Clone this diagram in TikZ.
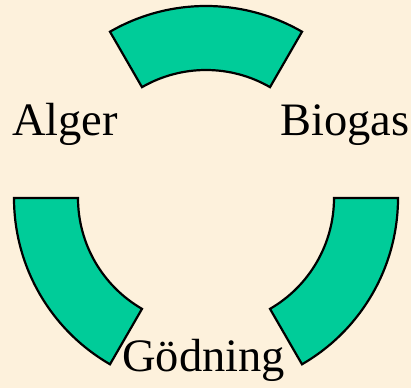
\documentclass[tikz,border=0pt]{standalone}
\usepackage{fontspec}
\setmainfont{Liberation Serif}
\definecolor{bgcream}{HTML}{FDF1DC}
\definecolor{ringgreen}{HTML}{00CC99}
\tikzset{
  sector/.style={fill=ringgreen, draw=black, line width=2.2pt, line join=miter},
  lbl/.style={anchor=base west, inner sep=0pt, font=\fontsize{46.5}{50}\selectfont}
}
\begin{document}
\begin{tikzpicture}[x=1pt,y=1pt]
\fill[bgcream] (0,0) rectangle (411,388);
\useasboundingbox (0,0) rectangle (411,388);
\coordinate (c) at (206,190);
\foreach \a in {60,180,300}{
  \pgfmathsetmacro{\b}{\a+60}
  \draw[sector] ([shift={(\a:192)}]c) arc[start angle=\a, end angle=\b, radius=192]
    -- ([shift={(\b:128)}]c) arc[start angle=\b, end angle=\a, radius=128] -- cycle;
}
\node[lbl] (alger) at (12,252) {Alger};
\node[lbl] (biogas) at (280,252) {Biogas};
\node[lbl] (godning) at (122,17) {Gödning};
\end{tikzpicture}
\end{document}
